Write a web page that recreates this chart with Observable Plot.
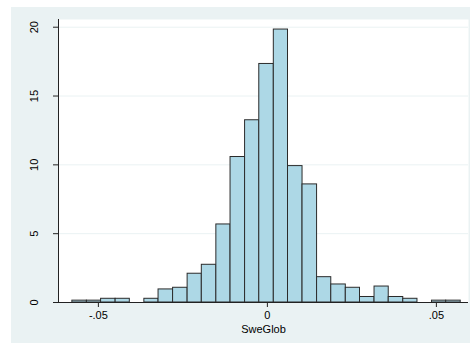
<!DOCTYPE html>
<html>
<head>
<meta charset="utf-8">
<script src="https://cdn.jsdelivr.net/npm/d3@7"></script>
<script src="https://cdn.jsdelivr.net/npm/@observablehq/plot@0.6"></script>
<style>
  html, body { margin: 0; padding: 0; background: #ffffff; }
  #chart { padding: 7px 0 0 11px; }
  #chart svg { background: #eaf2f3; display: block; }
</style>
</head>
<body>
<div id="chart"></div>
<script>
// Histogram of SweGlob: bin edges and percent of observations per bin
const binEdges = [
  -0.0577, -0.0534, -0.0492, -0.0449, -0.0407, -0.0364, -0.0322, -0.0279,
  -0.0236, -0.0194, -0.0151, -0.0109, -0.0066, -0.0024, 0.0019, 0.0061,
  0.0104, 0.0147, 0.0189, 0.0232, 0.0274, 0.0317, 0.0359, 0.0402,
  0.0444, 0.0487, 0.0529, 0.0572
];
const percents = [
  0.135, 0.135, 0.27, 0.27, 0, 0.27, 0.95, 1.07,
  2.09, 2.74, 5.67, 10.57, 13.24, 17.33, 19.83, 9.91,
  8.58, 1.84, 1.31, 1.07, 0.40, 1.16, 0.40, 0.27,
  0, 0.135, 0.135
];
const xTicks = [-0.05, 0, 0.05];
const xTickLabels = ["-.05", "0", ".05"];
const yTicks = [0, 5, 10, 15, 20];
const xLabel = "SweGlob";

const bins = percents.map((p, i) => ({x1: binEdges[i], x2: binEdges[i + 1], pct: p}))
  .filter(d => d.pct > 0);

const xDomain = [-0.0618, 0.0595];

const chart = Plot.plot({
  width: 459,
  height: 336,
  marginLeft: 47,
  marginRight: 2,
  marginTop: 12,
  marginBottom: 41,
  style: {fontFamily: "Liberation Sans, Arial, sans-serif", fontSize: "11px", color: "#000", background: "#eaf2f3"},
  x: {domain: xDomain, label: null},
  y: {domain: [0, 20.56], label: null},
  marks: [
    Plot.frame({fill: "#ffffff", stroke: null}),
    Plot.gridY(yTicks, {stroke: "#eaf2f3", strokeOpacity: 1, strokeWidth: 1}),
    Plot.rectY(bins, {x1: "x1", x2: "x2", y: "pct", fill: "#add8e6", stroke: "#2b2b2b", strokeWidth: 1}),
    Plot.axisX(xTicks, {
      tickSize: 5, tickPadding: 4, stroke: "#222",
      tickFormat: (d) => xTickLabels[xTicks.indexOf(d)],
      label: null
    }),
    Plot.axisY(yTicks, {
      tickSize: 5, tickPadding: 16, tickRotate: -90, stroke: "#222",
      label: null
    }),
    Plot.ruleY([0], {stroke: "#222", strokeWidth: 1}),
    Plot.ruleX([xDomain[0]], {stroke: "#222", strokeWidth: 1}),
    Plot.text([xLabel], {
      frameAnchor: "bottom", lineAnchor: "middle", dy: 27, text: d => d, fontSize: 11, fill: "#000"
    })
  ]
});

document.getElementById("chart").appendChild(chart);
</script>
</body>
</html>
